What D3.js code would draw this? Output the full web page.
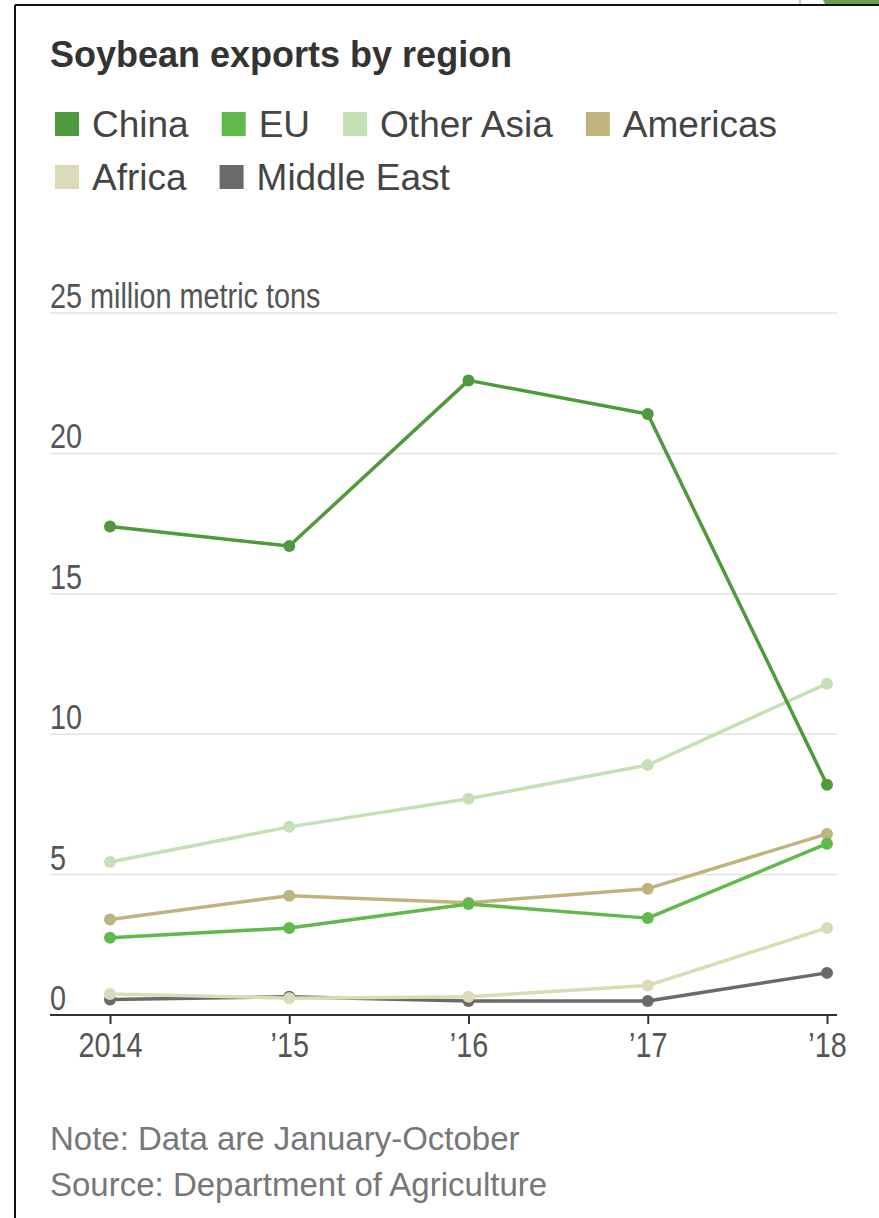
<!DOCTYPE html>
<html>
<head>
<meta charset="utf-8">
<script src="https://cdn.jsdelivr.net/npm/d3@7"></script>
<style>
  body { margin: 0; background: #fff; }
  svg { display: block; }
</style>
</head>
<body>
<div class="chart"></div>
<script>
// data (million metric tons, Jan-Oct)
const years = [2014, 2015, 2016, 2017, 2018]
const yearLabels = ['2014', '\u201915', '\u201916', '\u201917', '\u201918']
const regions = ['China', 'EU', 'Other Asia', 'Americas', 'Africa', 'Middle East']
const china = [17.4, 16.7, 22.6, 21.4, 8.2]
const eu = [2.75, 3.1, 3.95, 3.45, 6.1]
const otherAsia = [5.45, 6.7, 7.7, 8.9, 11.8]
const americas = [3.4, 4.25, 4.0, 4.5, 6.45]
const africa = [0.75, 0.6, 0.65, 1.05, 3.1]
const middleEast = [0.55, 0.65, 0.5, 0.5, 1.5]
const yTicks = [0, 5, 10, 15, 20, 25]
const colors = ['#4f9a3d', '#61b94c', '#c4e0b5', '#bfb47d', '#dcdbb8', '#6a6a6a']

const values = [china, eu, otherAsia, americas, africa, middleEast]
const series = regions.map((r, i) => ({name: r, color: colors[i], values: values[i]}))

const width = 879
const height = 1218
const regular = '"Liberation Sans", Arial, sans-serif'
// no narrow face installed, so squeeze the regular one
const squeeze = 'scale(0.8,1)'

const svg = d3.select('.chart')
  .append('svg')
  .attr('width', width)
  .attr('height', height)

svg.append('rect').attr('width', width).attr('height', height).attr('fill', '#fff')

// frame bits from the screenshot
svg.append('path').attr('d', 'M823,0 L879,0 L879,4 L825,4 Z').attr('fill', '#6e9e4f')
svg.append('line').attr('x1', 800).attr('x2', 800).attr('y1', 0).attr('y2', 5)
  .attr('stroke', '#bbb').attr('stroke-width', 1.5)
svg.append('line').attr('x1', 15).attr('x2', width).attr('y1', 5).attr('y2', 5)
  .attr('stroke', '#111').attr('stroke-width', 2)
svg.append('line').attr('x1', 15).attr('x2', 15).attr('y1', 5).attr('y2', height)
  .attr('stroke', '#111').attr('stroke-width', 2)

// title
svg.append('text')
  .attr('x', 50).attr('y', 67)
  .attr('font-family', regular)
  .attr('font-weight', 'bold')
  .attr('font-size', 36)
  .attr('fill', '#333')
  .text('Soybean exports by region')

// legend
const legendRows = [[0, 1, 2, 3], [4, 5]]
legendRows.forEach((row, ri) => {
  let lx = 55
  const ly = 124 + ri * 53
  row.forEach(i => {
    svg.append('rect')
      .attr('x', lx).attr('y', ly - 12)
      .attr('width', 24).attr('height', 24)
      .attr('fill', colors[i])
    const t = svg.append('text')
      .attr('x', lx + 37).attr('y', ly + 13)
      .attr('font-family', regular)
      .attr('font-size', 37)
      .attr('fill', '#444')
      .text(regions[i])
    lx = lx + 37 + t.node().getComputedTextLength() + 33
  })
})

const x = d3.scalePoint().domain(years).range([110, 827])
const y = d3.scaleLinear().domain([0, 25]).range([1015, 313])

// gridlines
svg.selectAll('.grid')
  .data(yTicks.filter(d => d > 0))
  .enter()
  .append('line')
  .attr('class', 'grid')
  .attr('x1', 50).attr('x2', 837)
  .attr('y1', d => y(d)).attr('y2', d => y(d))
  .attr('stroke', '#e2e2e2')
  .attr('stroke-width', 1.5)

svg.selectAll('.ylabel')
  .data(yTicks)
  .enter()
  .append('g')
  .attr('class', 'ylabel')
  .attr('transform', d => `translate(50,${y(d) - 5})`)
  .append('text')
  .attr('transform', squeeze)
  .attr('font-family', regular)
  .attr('font-size', 36)
  .attr('fill', '#555')
  .text(d => d == 25 ? '25 million metric tons' : d)

// x axis
const xAxis = svg.append('g')
  .attr('transform', `translate(0,${y(0)})`)
  .call(d3.axisBottom(x).tickSize(9).tickPadding(7).tickFormat((d, i) => yearLabels[i]))
xAxis.select('.domain').remove()
xAxis.append('line').attr('x1', 50).attr('x2', 837).attr('stroke', '#333').attr('stroke-width', 2)
xAxis.selectAll('.tick line').attr('stroke', '#333').attr('stroke-width', 2)
xAxis.selectAll('.tick text')
  .attr('transform', squeeze)
  .attr('font-family', regular)
  .attr('font-size', 36)
  .attr('fill', '#555')

// lines, drawn bottom-up so China ends on top
const drawOrder = [5, 4, 2, 3, 1, 0]
const line = d3.line().x((d, i) => x(years[i])).y(d => y(d))

drawOrder.forEach(i => {
  const s = series[i]
  svg.append('path')
    .datum(s.values)
    .attr('d', line)
    .attr('fill', 'none')
    .attr('stroke', s.color)
    .attr('stroke-width', 3.5)
    .attr('stroke-linejoin', 'round')
  svg.selectAll('.dot' + i)
    .data(s.values)
    .enter()
    .append('circle')
    .attr('cx', (d, j) => x(years[j]))
    .attr('cy', d => y(d))
    .attr('r', 6)
    .attr('fill', s.color)
})

// notes
svg.append('text')
  .attr('x', 50).attr('y', 1150)
  .attr('font-family', regular)
  .attr('font-size', 33)
  .attr('fill', '#777')
  .text('Note: Data are January-October')
svg.append('text')
  .attr('x', 50).attr('y', 1196)
  .attr('font-family', regular)
  .attr('font-size', 33)
  .attr('fill', '#777')
  .text('Source: Department of Agriculture')
</script>
</body>
</html>
